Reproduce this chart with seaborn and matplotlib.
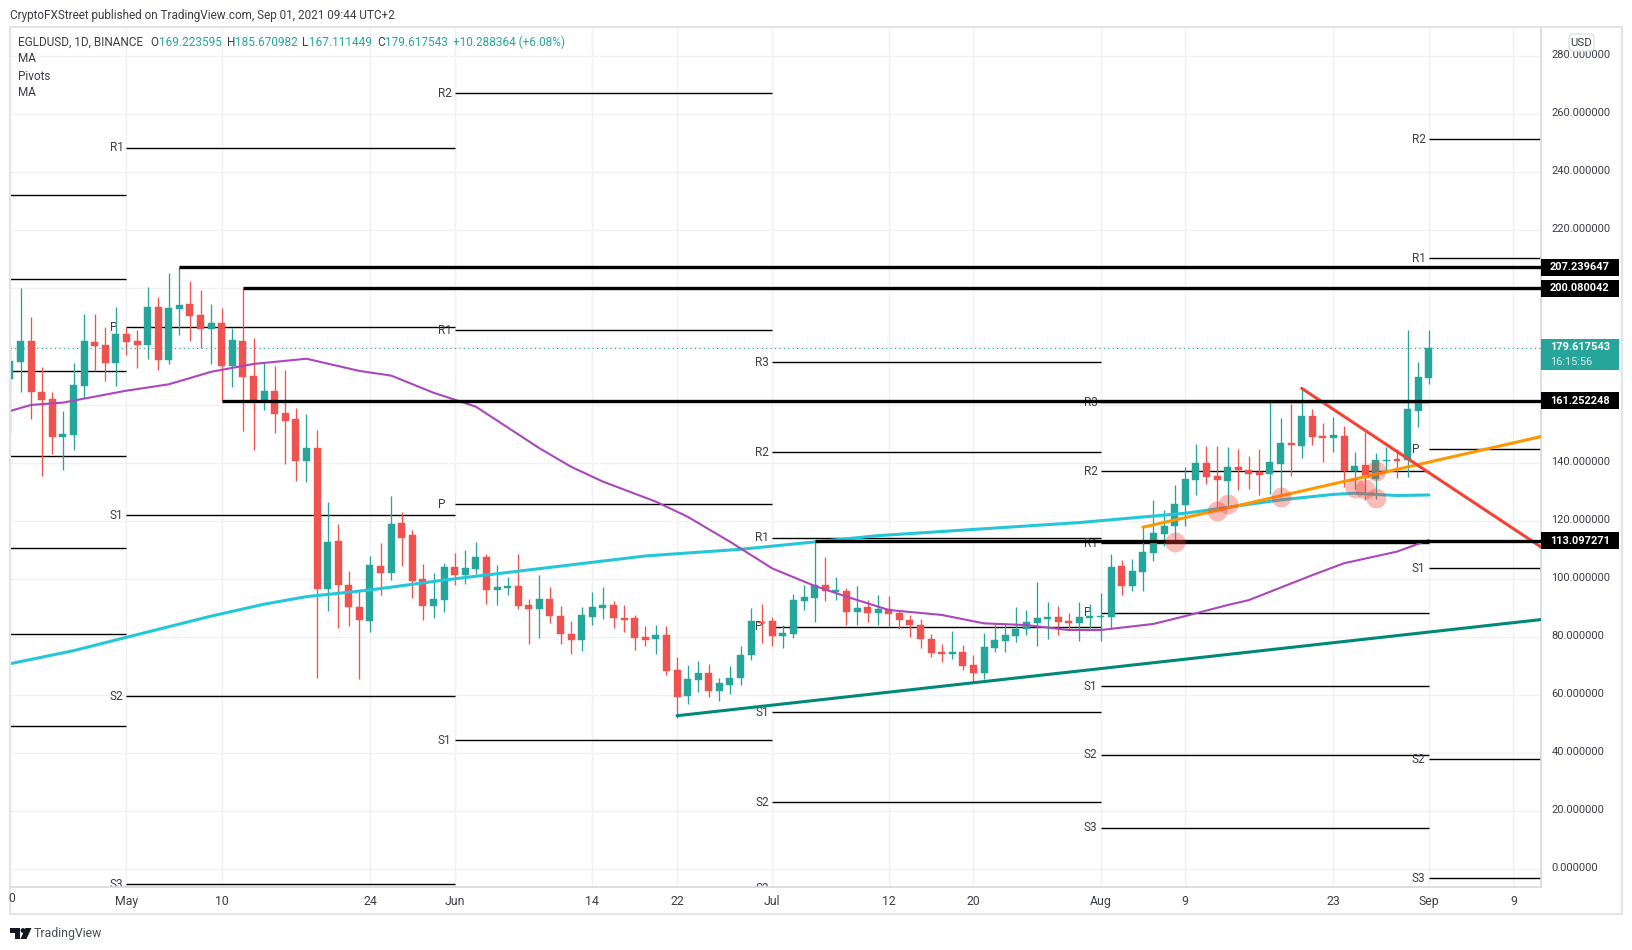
"""
plot.py
EGLDUSD daily candles with pivots, moving averages and drawn trend lines.
"""

import pandas as pd
import matplotlib.pyplot as plt
from matplotlib.patches import Rectangle, Circle, Polygon, FancyBboxPatch
from matplotlib.transforms import IdentityTransform, ScaledTranslation
import seaborn as sns

W, H = 1633, 950

# ── data ─────────────────────────────────────────────────────────────────────
first_day = "2021-04-20"
last_day = "2021-09-01"
right_edge = "2021-09-11 14:24"

opens = [168.8, 174.7, 181.9, 164.3, 161.9, 148.8, 149.5, 166.4, 181.5, 180.5, 174.3,
         184.3, 181.9, 180.5, 193.6, 175.4, 192.9, 194.6, 190.8, 186.0, 188.1, 173.3, 181.9, 169.8, 161.2, 164.7, 157.1,
         155.0, 140.6, 145.0, 96.5, 113.0, 97.9, 90.3, 85.5, 104.4, 102.0, 119.2, 115.1, 100.0, 90.7, 92.7,
         104.1, 101.3, 103.4, 107.5, 96.2, 96.9, 97.6, 91.0, 89.6, 93.1, 87.2, 81.0, 79.0, 86.9, 90.0,
         91.0, 86.5, 86.5, 80.0, 79.3, 80.7, 68.7, 59.7, 65.2, 67.6, 61.4, 63.5, 65.9, 73.8, 85.2,
         85.5, 80.3, 81.0, 92.4, 93.4, 97.9, 95.5, 95.8, 88.6, 90.3, 88.3, 89.6, 88.3, 85.9, 84.1, 79.3,
         74.8, 74.2, 74.8, 70.4, 67.6, 76.2, 78.6, 80.3, 82.8, 84.8, 86.2, 86.9, 85.5, 84.8, 86.6,
         86.9, 86.9, 104.4, 97.6, 102.4, 108.9, 115.5, 118.2, 125.4, 134.0, 139.9, 135.4, 133.7, 138.5, 137.5, 136.8,
         136.1, 139.6, 146.8, 145.7, 156.1, 149.2, 148.5, 149.2, 137.1, 139.2, 134.4, 140.6, 141.3, 140.9, 157.8, 169.22]
closes = [175.0, 181.9, 164.3, 161.6, 148.8, 149.9, 166.7, 181.9, 180.2, 174.3, 184.3,
          181.5, 180.5, 193.6, 175.4, 193.3, 194.3, 190.5, 186.0, 188.1, 173.3, 182.2, 169.5, 161.2, 164.7, 156.8, 154.4,
          140.6, 145.0, 96.5, 112.7, 97.9, 90.3, 85.9, 104.8, 102.0, 118.9, 114.1, 99.3, 90.7, 93.1, 104.1,
          101.3, 103.8, 107.5, 96.2, 97.2, 97.6, 90.7, 89.6, 93.1, 87.2, 81.0, 79.0, 87.6, 90.3, 91.0,
          86.5, 85.9, 79.7, 79.0, 80.7, 68.3, 59.3, 65.5, 67.6, 61.4, 64.2, 65.9, 73.8, 85.5, 84.8,
          80.3, 81.4, 92.7, 93.8, 97.9, 95.8, 96.2, 88.6, 90.0, 88.3, 89.6, 87.9, 85.9, 84.1, 79.3, 74.5,
          74.2, 74.8, 70.0, 67.6, 76.6, 79.0, 80.7, 82.8, 85.2, 86.5, 86.9, 85.2, 84.8, 86.9, 87.2,
          87.2, 104.1, 97.6, 102.7, 109.3, 115.8, 118.2, 125.8, 134.4, 139.9, 135.1, 134.0, 138.5, 137.5, 136.1, 135.8,
          140.2, 146.8, 146.1, 156.1, 148.8, 148.5, 149.5, 137.1, 138.9, 134.7, 140.9, 140.9, 140.6, 158.5, 169.5, 179.62]
highs = [180.9, 200.1, 190.2, 172.9, 164.3, 157.8, 174.3, 191.2, 191.2, 186.7, 193.6,
         186.7, 185.7, 200.5, 197.0, 205.3, 207.5, 202.5, 199.5, 194.6, 193.3, 186.4, 200.1, 182.9, 174.3, 173.3, 171.9,
         158.8, 156.8, 151.3, 126.5, 118.9, 102.7, 96.2, 107.9, 112.4, 128.5, 123.0, 116.8, 105.1, 102.0, 105.5,
         108.9, 110.0, 112.7, 108.6, 104.8, 100.7, 108.6, 93.1, 101.3, 97.2, 90.7, 85.5, 90.3, 95.5, 97.2,
         92.4, 91.0, 87.6, 83.8, 84.1, 83.8, 73.1, 70.4, 71.7, 70.7, 65.9, 70.0, 76.9, 90.0, 91.4,
         86.9, 84.1, 94.8, 97.9, 113.4, 107.5, 100.7, 96.9, 97.6, 92.7, 94.5, 94.1, 89.3, 87.6, 86.2, 81.0,
         77.6, 82.1, 77.3, 73.8, 81.4, 84.5, 84.8, 90.3, 89.3, 98.9, 92.1, 90.7, 88.3, 92.0, 91.4,
         95.1, 108.6, 106.5, 106.8, 117.9, 127.2, 123.7, 132.3, 138.5, 146.4, 145.7, 145.7, 145.4, 144.7, 142.3, 144.7,
         160.9, 155.4, 160.2, 165.7, 158.5, 153.7, 155.7, 152.6, 143.7, 150.6, 143.3, 145.4, 144.7, 185.7, 174.7, 185.67]
lows = [150.4, 164.3, 155.0, 135.4, 143.0, 137.5, 144.4, 162.3, 171.6, 168.1, 166.4,
        177.1, 172.6, 175.7, 171.9, 174.0, 184.0, 181.9, 179.6, 174.0, 161.2, 166.1, 150.9, 144.4, 158.1, 150.2, 139.6,
        133.7, 133.4, 65.9, 89.0, 83.1, 83.8, 65.5, 81.7, 94.5, 99.6, 104.4, 93.4, 85.9, 86.5, 88.6,
        97.9, 98.2, 101.7, 91.4, 91.0, 94.5, 89.6, 77.6, 79.7, 84.8, 77.6, 74.2, 75.2, 84.1, 86.2,
        83.1, 81.7, 75.5, 76.9, 74.2, 66.9, 52.1, 56.9, 61.1, 59.3, 58.0, 60.4, 63.5, 72.1, 77.9,
        76.9, 76.2, 79.7, 89.3, 85.2, 92.4, 92.7, 84.1, 84.1, 85.2, 84.1, 83.8, 82.8, 80.0, 76.2, 73.1,
        71.4, 72.4, 68.7, 64.2, 65.5, 74.8, 74.8, 78.3, 80.7, 76.9, 79.3, 80.7, 82.4, 78.6, 83.1,
        78.6, 83.1, 94.5, 95.8, 95.8, 106.2, 111.3, 112.7, 118.2, 128.9, 132.7, 123.0, 125.4, 130.6, 131.0, 128.9,
        129.2, 128.3, 135.4, 141.6, 146.1, 140.2, 143.7, 131.6, 131.0, 127.2, 127.5, 136.8, 134.7, 135.1, 152.3, 167.11]

ma_fast_dates = ["2021-04-20", "2021-04-22", "2021-04-25", "2021-05-01", "2021-05-05", "2021-05-09", "2021-05-13",
                 "2021-05-18", "2021-05-23", "2021-05-26", "2021-05-30", "2021-06-03", "2021-06-09", "2021-06-12",
                 "2021-06-15", "2021-06-20", "2021-06-23", "2021-06-27", "2021-07-01", "2021-07-05", "2021-07-08",
                 "2021-07-12", "2021-07-17", "2021-07-21", "2021-07-25", "2021-07-29", "2021-08-01", "2021-08-06",
                 "2021-08-09", "2021-08-13", "2021-08-15", "2021-08-21", "2021-08-24", "2021-08-29", "2021-09-01"]
ma_fast = [157.8, 159.9, 160.7, 164.8, 167.0, 171.3, 174.0, 175.8, 171.6, 170.0, 164.1, 159.3, 145.0, 138.6,
           133.5, 126.6, 121.4, 112.8, 103.6, 97.6, 93.9, 89.3, 87.6, 84.7, 84.1, 82.4, 82.4, 84.5, 87.2,
           91.0, 92.7, 101.3, 105.4, 109.4, 113.4]

ma_slow_dates = ["2021-04-20", "2021-04-26", "2021-05-01", "2021-05-09", "2021-05-14", "2021-05-18", "2021-05-24",
                 "2021-05-31", "2021-06-19", "2021-06-28", "2021-07-11", "2021-07-30", "2021-08-09", "2021-08-18",
                 "2021-08-23", "2021-08-25", "2021-08-29", "2021-09-01"]
ma_slow = [70.8, 75.3, 79.9, 87.2, 91.3, 93.9, 96.2, 99.6, 107.9, 110.2, 114.9, 119.4, 122.6, 127.2,
           129.1, 129.5, 128.7, 128.9]

# drawn horizontal levels: value and day they start
level_values = [207.239647, 200.080042, 161.252248, 113.097271]
level_starts = ["2021-05-06", "2021-05-12", "2021-05-10", "2021-07-05"]

# drawn trend lines
teal_dates, teal_values = ["2021-06-22", right_edge], [52.9, 86.0]
orange_dates, orange_values = ["2021-08-05", right_edge], [117.8, 149.0]
red_dates, red_values = ["2021-08-20", right_edge], [165.6, 111.0]

# pink touch markers
touch_dates = ["2021-08-08", "2021-08-12", "2021-08-13", "2021-08-18", "2021-08-25", "2021-08-26", "2021-08-27",
               "2021-08-27"]
touch_values = [112.8, 123.4, 125.7, 128.3, 131.2, 130.8, 127.7, 137.1]

# monthly pivots, one entry per period
pivot_periods = [("2021-04-20", "2021-05-01"), ("2021-05-01", "2021-06-01"), ("2021-06-01", "2021-07-01"),
                 ("2021-07-01", "2021-08-01"), ("2021-08-01", "2021-09-01"), ("2021-09-01", right_edge)]
pivot_names = [["", "", "", "", "", "", ""],
               ["R1", "P", "S1", "S2", "S3"],
               ["R2", "R1", "P", "S1"],
               ["R3", "R2", "R1", "P", "S1", "S2", "S3"],
               ["R3", "R2", "R1", "P", "S1", "S2", "S3"],
               ["R2", "R1", "P", "S1", "S2", "S3"]]
pivot_values = [[232.3, 203.1, 171.5, 142.2, 110.5, 80.9, 49.4],
                [248.4, 186.6, 121.9, 59.6, -5.1],
                [267.2, 185.6, 125.7, 44.4],
                [174.6, 143.6, 114.2, 83.6, 54.1, 23.2, -6.7],
                [160.8, 137.0, 112.3, 88.3, 63.1, 39.4, 14.3],
                [251.3, 210.4, 144.6, 103.6, 38.0, -3.0]]

price_ticks = list(range(0, 281, 20))
# 160, 180 and 200 sit behind the price tags on the scale
hidden_ticks = [160, 180, 200]
date_ticks = ["2021-05-01", "2021-05-10", "2021-05-24", "2021-06-01", "2021-06-14", "2021-06-22", "2021-07-01",
              "2021-07-12", "2021-07-20", "2021-08-01", "2021-08-09", "2021-08-23", "2021-09-01", "2021-09-09"]
date_labels = ["May", "10", "24", "Jun", "14", "22", "Jul", "12", "20", "Aug", "9", "23", "Sep", "9"]

last_close = 179.617543

UP = "#26a69a"
DOWN = "#ef5350"
TEXT = "#3a3d45"
GRID = "#f0f1f5"
BORDER = "#e3e4ea"

sns.set_theme(style="white")
plt.rcParams["font.family"] = ["Roboto", "DejaVu Sans"]
FS = 8.5
FS_SCALE = 7.9


def px(x, y):
    # picture pixels (origin top left) to figure fractions
    return x / W, 1 - y / H


def tp(x, y):
    # same pixels for patches
    return x, H - y


fig = plt.figure(figsize=(W / 100, H / 100), dpi=100, facecolor="white")
ax = fig.add_axes([10 / W, 1 - 887 / H, 1531 / W, 860 / H])
ax.set_facecolor("white")

# ── candles ──────────────────────────────────────────────────────────────────
df = pd.DataFrame({"date": pd.date_range(first_day, last_day, freq="D"),
                   "open": opens, "high": highs, "low": lows, "close": closes})
df["color"] = [UP if c >= o else DOWN for o, c in zip(df["open"], df["close"])]
df["body_low"] = df[["open", "close"]].min(axis=1)
df["body_size"] = (df["close"] - df["open"]).abs()

ax.vlines(df["date"], df["low"], df["high"], colors=df["color"], linewidth=0.95, zorder=3)
ax.bar(df["date"], df["body_size"], bottom=df["body_low"], width=0.66, color=df["color"],
       edgecolor=df["color"], linewidth=0.3, zorder=4)

# ── pivots ───────────────────────────────────────────────────────────────────
for (start, end), names, values in zip(pivot_periods, pivot_names, pivot_values):
    start_d, end_d = pd.Timestamp(start), pd.Timestamp(end)
    ax.hlines(values, start_d, end_d, colors="black", linewidth=1.0, zorder=2)
    for name, val in zip(names, values):
        if name:
            ax.annotate(name, (start_d, val), xytext=(-12.2, 0), textcoords="offset points", ha="left",
                        va="center", fontsize=FS, color=TEXT, annotation_clip=False, clip_on=True, zorder=2)

# ── moving averages and drawn lines ──────────────────────────────────────────
line_kw = dict(ax=ax, legend=False, estimator=None, errorbar=None, sort=False)
sns.lineplot(x=pd.to_datetime(ma_slow_dates), y=ma_slow, color="#26c6da", linewidth=2.2, zorder=5, **line_kw)
sns.lineplot(x=pd.to_datetime(ma_fast_dates), y=ma_fast, color="#ab47bc", linewidth=1.5, zorder=5, **line_kw)
sns.lineplot(x=pd.to_datetime(teal_dates, format="mixed"), y=teal_values, color="#00897b", linewidth=2.2, zorder=5, **line_kw)
sns.lineplot(x=pd.to_datetime(orange_dates, format="mixed"), y=orange_values, color="#ff9800", linewidth=2.2, zorder=5, **line_kw)
sns.lineplot(x=pd.to_datetime(red_dates, format="mixed"), y=red_values, color="#f44336", linewidth=2.2, zorder=5, **line_kw)

for val, start in zip(level_values, level_starts):
    ax.hlines(val, pd.Timestamp(start), pd.Timestamp(right_edge), colors="black", linewidth=2.4, zorder=6)

sns.scatterplot(x=pd.to_datetime(touch_dates), y=touch_values, ax=ax, s=205, color="#f44336", alpha=0.36,
                linewidth=0, zorder=7, legend=False)

ax.axhline(last_close, color=UP, linewidth=0.8, linestyle=(0, (1, 3)), zorder=3)

# ── axes ─────────────────────────────────────────────────────────────────────
ax.set_xlim(pd.Timestamp(first_day), pd.Timestamp(right_edge))
ax.set_ylim(-6.06, 290.0)
ax.set_xlabel("")
ax.set_ylabel("")
ax.yaxis.tick_right()
ax.set_yticks(price_ticks)
ax.set_yticklabels(["" if v in hidden_ticks else f"{v}.000000" for v in price_ticks], fontsize=FS_SCALE, color=TEXT)
ax.set_xticks(pd.to_datetime(date_ticks))
ax.set_xticklabels(date_labels, fontsize=FS + 0.3, color=TEXT)
ax.tick_params(axis="y", length=0, pad=7.5)
ax.tick_params(axis="x", length=0, pad=6)
ax.grid(True, color=GRID, linewidth=1.0, zorder=0)
ax.set_axisbelow(True)
ax.spines[["top", "left"]].set_visible(False)
ax.spines[["right", "bottom"]].set_color("#d6d8e0")
ax.spines[["right", "bottom"]].set_linewidth(1.2)

# the scale labels sit a touch above their grid lines
nudge = ScaledTranslation(0, 2 / 100, fig.dpi_scale_trans)
for lab in ax.get_yticklabels():
    lab.set_transform(lab.get_transform() + nudge)

# price tags on the scale
tag_w = 78 / 1531
for val in level_values:
    ax.add_patch(Rectangle((1.0, val - 2.93), tag_w, 5.86, transform=ax.get_yaxis_transform(), facecolor="black",
                           edgecolor="none", clip_on=False, zorder=8))
    ax.text(1 + 9 / 1531, val, f"{val:.6f}", transform=ax.get_yaxis_transform(), ha="left", va="center",
            fontsize=FS_SCALE, fontweight="bold", color="white", clip_on=False, zorder=9)
ax.add_patch(Rectangle((1.0, 171.9), tag_w, 10.7, transform=ax.get_yaxis_transform(), facecolor=UP,
                       edgecolor="none", clip_on=False, zorder=8))
ax.text(1 + 9 / 1531, 179.8, f"{last_close:.6f}", transform=ax.get_yaxis_transform(), ha="left", va="center",
        fontsize=FS_SCALE, fontweight="bold", color="white", clip_on=False, zorder=9)
ax.text(1 + 9 / 1531, 174.8, "16:15:56", transform=ax.get_yaxis_transform(), ha="left", va="center",
        fontsize=FS_SCALE, color="#d8f0ed", clip_on=False, zorder=9)

# ── frame, header and footer ─────────────────────────────────────────────────
pix = IdentityTransform()
fig.add_artist(Rectangle(tp(10, 914), 1612, 887, transform=pix, facecolor="none", edgecolor=BORDER, linewidth=1.5))
fig.add_artist(FancyBboxPatch(tp(1569, 51), 25, 17, boxstyle="round,pad=0,rounding_size=4", transform=pix,
                              facecolor="white", edgecolor="#dfe1e8", linewidth=1.0, zorder=10))
fig.text(*px(1581.5, 42.5), "USD", ha="center", va="center", fontsize=FS - 0.3, color=TEXT, zorder=11)

fig.text(*px(10, 15), "CryptoFXStreet published on TradingView.com, Sep 01, 2021 09:44 UTC+2",
         ha="left", va="center", fontsize=FS, color=TEXT)

fig.text(*px(18, 42), "EGLDUSD, 1D, BINANCE", ha="left", va="center", fontsize=FS, color=TEXT)
ohlc_parts = [(150, "O", TEXT), (159, "169.223595", UP), (227, "H", TEXT), (235, "185.670982", UP),
              (302, "L", TEXT), (309, "167.111449", UP), (377, "C", TEXT), (385, "179.617543", UP),
              (453, "+10.288364 (+6.08%)", UP)]
for x_px, label, col in ohlc_parts:
    fig.text(*px(x_px, 42), label, ha="left", va="center", fontsize=FS, color=col)
for y_px, label in zip([59, 76, 93], ["MA", "Pivots", "MA"]):
    fig.text(*px(18, y_px), label, ha="left", va="center", fontsize=FS, color=TEXT)

# first tick label is cut by the left edge of the chart, only its last digit shows
fig.text(*px(12, 899), "0", ha="center", va="center", fontsize=FS + 0.3, color=TEXT)

# logo
logo = "#131722"
fig.add_artist(Rectangle(tp(10, 933), 10, 5, transform=pix, facecolor=logo, edgecolor="none"))
fig.add_artist(Rectangle(tp(15, 939), 5, 11, transform=pix, facecolor=logo, edgecolor="none"))
fig.add_artist(Circle(tp(23, 930.5), 2.4, transform=pix, facecolor=logo, edgecolor="none"))
fig.add_artist(Polygon([tp(25.5, 928), tp(31.5, 928), tp(26.5, 939), tp(20.5, 939)], transform=pix,
                       facecolor=logo, edgecolor="none"))
fig.text(*px(34, 933.5), "TradingView", ha="left", va="center", fontsize=FS + 0.3, color="#4a4e57")

fig.savefig("out.png", dpi=100)
plt.close(fig)
